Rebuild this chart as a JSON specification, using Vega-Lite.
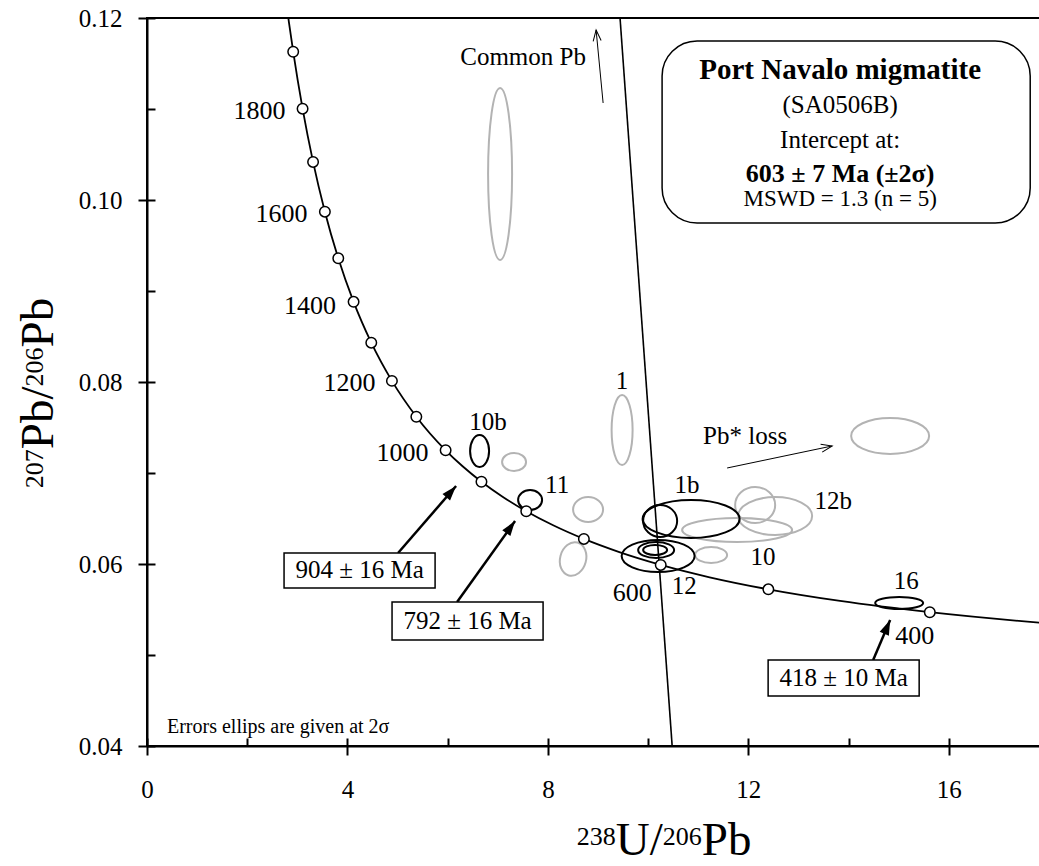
{
  "$schema": "https://vega.github.io/schema/vega-lite/v6.json",
  "width": 902,
  "height": 728,
  "autosize": {"type": "none"},
  "padding": {"left": 147, "top": 18, "right": 0, "bottom": 120},
  "background": "white",
  "config": {
    "view": {"stroke": "black", "strokeWidth": 2},
    "font": "Liberation Serif",
    "text": {"font": "Liberation Serif", "color": "black"}
  },
  "datasets": {
    "concordia": [
      {"age": 340, "x": 18.4645, "y": 0.053263},
      {"age": 350, "x": 17.9228, "y": 0.053499},
      {"age": 400, "x": 15.6212, "y": 0.0547},
      {"age": 450, "x": 13.8312, "y": 0.05594},
      {"age": 500, "x": 12.3993, "y": 0.057219},
      {"age": 550, "x": 11.2279, "y": 0.058539},
      {"age": 600, "x": 10.2518, "y": 0.059901},
      {"age": 650, "x": 9.426, "y": 0.061307},
      {"age": 700, "x": 8.7182, "y": 0.062757},
      {"age": 750, "x": 8.1049, "y": 0.064254},
      {"age": 800, "x": 7.5684, "y": 0.065799},
      {"age": 850, "x": 7.095, "y": 0.067395},
      {"age": 900, "x": 6.6743, "y": 0.069042},
      {"age": 950, "x": 6.298, "y": 0.070744},
      {"age": 1000, "x": 5.9593, "y": 0.072499},
      {"age": 1100, "x": 5.3746, "y": 0.076187},
      {"age": 1200, "x": 4.8875, "y": 0.080123},
      {"age": 1300, "x": 4.4756, "y": 0.084325},
      {"age": 1400, "x": 4.1227, "y": 0.088807},
      {"age": 1500, "x": 3.817, "y": 0.093597},
      {"age": 1600, "x": 3.5497, "y": 0.098716},
      {"age": 1700, "x": 3.314, "y": 0.104186},
      {"age": 1800, "x": 3.1046, "y": 0.110036},
      {"age": 1900, "x": 2.9174, "y": 0.116293},
      {"age": 1950, "x": 2.831, "y": 0.119582},
      {"age": 2000, "x": 2.749, "y": 0.122986}
    ],
    "discordia": [{"x": 9.44, "y": 0.12, "x2": 10.48, "y2": 0.04}],
    "ellipses": [
      {"id": "G1", "status": "excluded", "x": 7.046, "y": 0.10286},
      {"id": "G2", "status": "excluded", "x": 9.481, "y": 0.07473},
      {"id": "G3", "status": "excluded", "x": 7.325, "y": 0.07121},
      {"id": "G4", "status": "excluded", "x": 8.802, "y": 0.06599},
      {"id": "G5", "status": "excluded", "x": 8.503, "y": 0.06055},
      {"id": "G6", "status": "excluded", "x": 14.83, "y": 0.07407},
      {"id": "G7", "status": "excluded", "x": 12.136, "y": 0.06648},
      {"id": "G8", "status": "excluded", "x": 12.535, "y": 0.06527},
      {"id": "G9", "status": "excluded", "x": 11.776, "y": 0.06374},
      {"id": "G10", "status": "excluded", "x": 11.257, "y": 0.06099},
      {"id": "B1", "status": "used", "x": 6.637, "y": 0.07242},
      {"id": "B2", "status": "used", "x": 7.645, "y": 0.06703},
      {"id": "B3", "status": "used", "x": 10.858, "y": 0.06495},
      {"id": "B4", "status": "used", "x": 10.24, "y": 0.06473},
      {"id": "B5", "status": "used", "x": 10.2, "y": 0.06088},
      {"id": "B6", "status": "used", "x": 10.16, "y": 0.06154},
      {"id": "B7", "status": "used", "x": 10.14, "y": 0.06154},
      {"id": "B8", "status": "used", "x": 15.01, "y": 0.05571}
    ],
    "agelabels": [
      {"label": "1800", "x": 2.246, "y": 0.10978},
      {"label": "1600", "x": 2.685, "y": 0.09846},
      {"label": "1400", "x": 3.253, "y": 0.08835},
      {"label": "1200", "x": 4.042, "y": 0.07989},
      {"label": "1000", "x": 5.1, "y": 0.0722},
      {"label": "600", "x": 9.681, "y": 0.05681},
      {"label": "400", "x": 15.319, "y": 0.05214}
    ],
    "labels": [
      {"label": "1", "x": 9.481, "y": 0.08011},
      {"label": "10b", "x": 6.806, "y": 0.0756},
      {"label": "11", "x": 8.184, "y": 0.06868},
      {"label": "1b", "x": 10.778, "y": 0.06868},
      {"label": "12b", "x": 13.693, "y": 0.06692},
      {"label": "10", "x": 12.295, "y": 0.06077},
      {"label": "12", "x": 10.719, "y": 0.05758},
      {"label": "16", "x": 15.15, "y": 0.05813},
      {"label": "Common Pb", "x": 7.505, "y": 0.11571},
      {"label": "Pb* loss", "x": 11.936, "y": 0.07407}
    ],
    "notes": [{"label": "Errors ellips are given at 2σ", "x": 0.399, "y": 0.04209}],
    "xtitle_main": [
      {"label": "U/", "x": 9.355, "y": 0.02802},
      {"label": "Pb", "x": 11.072, "y": 0.02802}
    ],
    "xtitle_sup": [
      {"label": "238", "x": 8.576, "y": 0.02916},
      {"label": "206", "x": 10.293, "y": 0.02916}
    ],
    "ytitle_main": [
      {"label": "Pb/", "x": -1.876, "y": 0.07262},
      {"label": "Pb", "x": -1.876, "y": 0.08379}
    ],
    "ytitle_sup": [
      {"label": "207", "x": -2.084, "y": 0.06833},
      {"label": "206", "x": -2.084, "y": 0.07951}
    ],
    "infobox": [{"x": 10.279, "x2": 17.625, "y": 0.11747, "y2": 0.09747}],
    "infotext": [
      {"line": 1, "label": "Port Navalo migmatite", "x": 13.832, "y": 0.1133},
      {"line": 2, "label": "(SA0506B)", "x": 13.832, "y": 0.10956},
      {"line": 3, "label": "Intercept at:", "x": 13.832, "y": 0.10571},
      {"line": 4, "label": "603 ± 7 Ma (±2σ)", "x": 13.832, "y": 0.10198},
      {"line": 5, "label": "MSWD = 1.3 (n = 5)", "x": 13.832, "y": 0.09934}
    ],
    "ageboxes": [
      {"x": 2.735, "x2": 5.749, "y": 0.06121, "y2": 0.05736},
      {"x": 4.89, "x2": 7.904, "y": 0.05582, "y2": 0.05165},
      {"x": 12.395, "x2": 15.409, "y": 0.04945, "y2": 0.04549}
    ],
    "agetext": [
      {"label": "904 ± 16 Ma", "x": 4.242, "y": 0.05929},
      {"label": "792 ± 16 Ma", "x": 6.397, "y": 0.05374},
      {"label": "418 ± 10 Ma", "x": 13.902, "y": 0.04747}
    ],
    "arrows": [
      {"id": "a904", "x": 5.01, "y": 0.06121, "x2": 6.168, "y2": 0.06857},
      {"id": "a792", "x": 6.188, "y": 0.05582, "x2": 7.345, "y2": 0.06473},
      {"id": "a418", "x": 14.491, "y": 0.04945, "x2": 14.83, "y2": 0.05385},
      {"id": "common", "x": 9.102, "y": 0.11066, "x2": 8.962, "y2": 0.11868},
      {"id": "loss", "x": 11.577, "y": 0.07055, "x2": 13.673, "y2": 0.07297}
    ],
    "heads": [
      {"id": "a904", "x": 6.168, "y": 0.06857},
      {"id": "a792", "x": 7.345, "y": 0.06473},
      {"id": "a418", "x": 14.83, "y": 0.05385},
      {"id": "common", "x": 8.962, "y": 0.11868},
      {"id": "loss", "x": 13.673, "y": 0.07297}
    ]
  },
  "encoding": {
    "x": {"field": "x", "type": "quantitative", "scale": {"domain": [0, 18], "nice": false, "zero": false}, "axis": null},
    "y": {"field": "y", "type": "quantitative", "scale": {"domain": [0.04, 0.12], "nice": false, "zero": false}, "axis": null}
  },
  "resolve": {"axis": {"x": "independent", "y": "independent"}},
  "layer": [
    {
      "data": {"name": "concordia"},
      "mark": {"type": "line", "color": "black", "strokeWidth": 1.8, "interpolate": "monotone", "clip": true},
      "encoding": {
        "x": {"field": "x", "type": "quantitative", "scale": {"domain": [0, 18], "nice": false, "zero": false},
          "axis": {"orient": "bottom", "values": [0, 4, 8, 12, 16], "tickSize": 9, "tickWidth": 2, "tickColor": "black",
            "domainColor": "black", "domainWidth": 2, "grid": false, "labelFont": "Liberation Serif", "labelFontSize": 25,
            "labelColor": "black", "labelPadding": 42, "labelBaseline": "alphabetic", "labelFlush": false, "labelOverlap": false,
            "title": null}},
        "y": {"field": "y", "type": "quantitative", "scale": {"domain": [0.04, 0.12], "nice": false, "zero": false},
          "axis": {"orient": "left", "values": [0.04, 0.06, 0.08, 0.1, 0.12], "format": ".2f", "tickSize": 9, "tickWidth": 2,
            "tickColor": "black", "domainColor": "black", "domainWidth": 2, "grid": false, "labelFont": "Liberation Serif",
            "labelFontSize": 25, "labelColor": "black", "labelPadding": 16, "labelFlush": false, "labelOverlap": false,
            "title": null}}
      }
    },
    {
      "data": {"name": "discordia"},
      "mark": {"type": "rule", "color": "black", "strokeWidth": 1.6},
      "encoding": {
        "x": {"field": "x", "type": "quantitative", "scale": {"domain": [0, 18], "nice": false, "zero": false},
          "axis": {"orient": "bottom", "values": [0, 2, 4, 6, 8, 10, 12, 14, 16, 18], "tickSize": -8, "tickWidth": 2,
            "tickColor": "black", "domain": false, "labels": false, "grid": false, "title": null}},
        "y": {"field": "y", "type": "quantitative", "scale": {"domain": [0.04, 0.12], "nice": false, "zero": false},
          "axis": {"orient": "left", "values": [0.04, 0.05, 0.06, 0.07, 0.08, 0.09, 0.1, 0.11, 0.12], "tickSize": -8, "tickWidth": 2,
            "tickColor": "black", "domain": false, "labels": false, "grid": false, "title": null}},
        "x2": {"field": "x2"},
        "y2": {"field": "y2"}
      }
    },
    {
      "data": {"name": "ellipses"},
      "mark": {"type": "point", "filled": false, "size": 4, "strokeWidth": 2, "opacity": 1},
      "encoding": {
        "shape": {"field": "id", "type": "nominal", "legend": null, "scale": {
          "domain": ["G1", "G2", "G3", "G4", "G5", "G6", "G7", "G8", "G9", "G10", "B1", "B2", "B3", "B4", "B5", "B6", "B7", "B8"],
          "range": [
            "M-12,0A12,86 0 1,0 12,0A12,86 0 1,0 -12,0Z",
            "M-10.5,0A10.5,35 0 1,0 10.5,0A10.5,35 0 1,0 -10.5,0Z",
            "M-12,0A12,9 0 1,0 12,0A12,9 0 1,0 -12,0Z",
            "M-15,0A15,12.5 0 1,0 15,0A15,12.5 0 1,0 -15,0Z",
            "M-12.56,-3.36A13,17 15 1,0 12.56,3.36A13,17 15 1,0 -12.56,-3.36Z",
            "M-39,0A39,18 0 1,0 39,0A39,18 0 1,0 -39,0Z",
            "M-20,0A20,18 0 1,0 20,0A20,18 0 1,0 -20,0Z",
            "M-37,0A37,19 0 1,0 37,0A37,19 0 1,0 -37,0Z",
            "M-55,0A55,12 0 1,0 55,0A55,12 0 1,0 -55,0Z",
            "M-16,0A16,8 0 1,0 16,0A16,8 0 1,0 -16,0Z",
            "M-9.5,0A9.5,16 0 1,0 9.5,0A9.5,16 0 1,0 -9.5,0Z",
            "M-12,0A12,10 0 1,0 12,0A12,10 0 1,0 -12,0Z",
            "M-48.5,0A48.5,19 0 1,0 48.5,0A48.5,19 0 1,0 -48.5,0Z",
            "M-17,0A17,16 0 1,0 17,0A17,16 0 1,0 -17,0Z",
            "M-36.5,0A36.5,16 0 1,0 36.5,0A36.5,16 0 1,0 -36.5,0Z",
            "M-18,0A18,8 0 1,0 18,0A18,8 0 1,0 -18,0Z",
            "M-12,0A12,5 0 1,0 12,0A12,5 0 1,0 -12,0Z",
            "M-24,0A24,6 0 1,0 24,0A24,6 0 1,0 -24,0Z"
          ]}},
        "stroke": {"field": "status", "type": "nominal", "legend": null,
          "scale": {"domain": ["excluded", "used"], "range": ["#b3b3b3", "#000000"]}}
      }
    },
    {
      "data": {"name": "concordia"},
      "transform": [{"filter": "datum.age >= 400 && datum.age <= 1900 && datum.age % 100 == 0"}],
      "mark": {"type": "point", "shape": "circle", "filled": true, "fill": "white", "stroke": "black", "strokeWidth": 1.5, "size": 110, "opacity": 1}
    },
    {
      "data": {"name": "agelabels"},
      "mark": {"type": "text", "fontSize": 26, "baseline": "middle", "align": "center"},
      "encoding": {"text": {"field": "label"}}
    },
    {
      "data": {"name": "labels"},
      "mark": {"type": "text", "fontSize": 25, "baseline": "middle", "align": "center"},
      "encoding": {"text": {"field": "label"}}
    },
    {
      "data": {"name": "notes"},
      "mark": {"type": "text", "fontSize": 20, "baseline": "middle", "align": "left"},
      "encoding": {"text": {"field": "label"}}
    },
    {
      "data": {"name": "xtitle_main"},
      "mark": {"type": "text", "fontSize": 47, "baseline": "alphabetic", "align": "left"},
      "encoding": {"text": {"field": "label"}}
    },
    {
      "data": {"name": "xtitle_sup"},
      "mark": {"type": "text", "fontSize": 26, "baseline": "alphabetic", "align": "left"},
      "encoding": {"text": {"field": "label"}}
    },
    {
      "data": {"name": "ytitle_main"},
      "mark": {"type": "text", "fontSize": 47, "baseline": "alphabetic", "align": "left", "angle": 270},
      "encoding": {"text": {"field": "label"}}
    },
    {
      "data": {"name": "ytitle_sup"},
      "mark": {"type": "text", "fontSize": 26, "baseline": "alphabetic", "align": "left", "angle": 270},
      "encoding": {"text": {"field": "label"}}
    },
    {
      "data": {"name": "arrows"},
      "transform": [{"filter": "datum.id == 'common' || datum.id == 'loss'"}],
      "mark": {"type": "rule", "color": "black", "strokeWidth": 1},
      "encoding": {"x2": {"field": "x2"}, "y2": {"field": "y2"}}
    },
    {
      "data": {"name": "arrows"},
      "transform": [{"filter": "datum.id == 'a904' || datum.id == 'a792' || datum.id == 'a418'"}],
      "mark": {"type": "rule", "color": "black", "strokeWidth": 2.5},
      "encoding": {"x2": {"field": "x2"}, "y2": {"field": "y2"}}
    },
    {
      "data": {"name": "heads"},
      "transform": [{"filter": "datum.id == 'a904'"}],
      "mark": {"type": "point", "shape": "M0,0L-5,15L5,15Z", "filled": true, "color": "black", "size": 4, "angle": 40.9, "opacity": 1}
    },
    {
      "data": {"name": "heads"},
      "transform": [{"filter": "datum.id == 'a792'"}],
      "mark": {"type": "point", "shape": "M0,0L-5,15L5,15Z", "filled": true, "color": "black", "size": 4, "angle": 35.6, "opacity": 1}
    },
    {
      "data": {"name": "heads"},
      "transform": [{"filter": "datum.id == 'a418'"}],
      "mark": {"type": "point", "shape": "M0,0L-5,15L5,15Z", "filled": true, "color": "black", "size": 4, "angle": 23, "opacity": 1}
    },
    {
      "data": {"name": "heads"},
      "transform": [{"filter": "datum.id == 'common'"}],
      "mark": {"type": "point", "shape": "M-4,11L0,0L4,11", "filled": false, "color": "black", "strokeWidth": 1, "size": 4, "angle": 354.5, "opacity": 1}
    },
    {
      "data": {"name": "heads"},
      "transform": [{"filter": "datum.id == 'loss'"}],
      "mark": {"type": "point", "shape": "M-4,11L0,0L4,11", "filled": false, "color": "black", "strokeWidth": 1, "size": 4, "angle": 78.2, "opacity": 1}
    },
    {
      "data": {"name": "ageboxes"},
      "mark": {"type": "rect", "fill": "white", "stroke": "black", "strokeWidth": 1.5},
      "encoding": {"x2": {"field": "x2"}, "y2": {"field": "y2"}}
    },
    {
      "data": {"name": "agetext"},
      "mark": {"type": "text", "fontSize": 25, "baseline": "middle", "align": "center"},
      "encoding": {"text": {"field": "label"}}
    },
    {
      "data": {"name": "infobox"},
      "mark": {"type": "rect", "fill": "white", "stroke": "black", "strokeWidth": 1.5, "cornerRadius": 35},
      "encoding": {"x2": {"field": "x2"}, "y2": {"field": "y2"}}
    },
    {
      "data": {"name": "infotext"},
      "transform": [{"filter": "datum.line == 1"}],
      "mark": {"type": "text", "fontSize": 29, "fontWeight": "bold", "baseline": "alphabetic", "align": "center"},
      "encoding": {"text": {"field": "label"}}
    },
    {
      "data": {"name": "infotext"},
      "transform": [{"filter": "datum.line == 4"}],
      "mark": {"type": "text", "fontSize": 26, "fontWeight": "bold", "baseline": "alphabetic", "align": "center"},
      "encoding": {"text": {"field": "label"}}
    },
    {
      "data": {"name": "infotext"},
      "transform": [{"filter": "datum.line == 2 || datum.line == 3"}],
      "mark": {"type": "text", "fontSize": 25, "baseline": "alphabetic", "align": "center"},
      "encoding": {"text": {"field": "label"}}
    },
    {
      "data": {"name": "infotext"},
      "transform": [{"filter": "datum.line == 5"}],
      "mark": {"type": "text", "fontSize": 23, "baseline": "alphabetic", "align": "center"},
      "encoding": {"text": {"field": "label"}}
    }
  ]
}
